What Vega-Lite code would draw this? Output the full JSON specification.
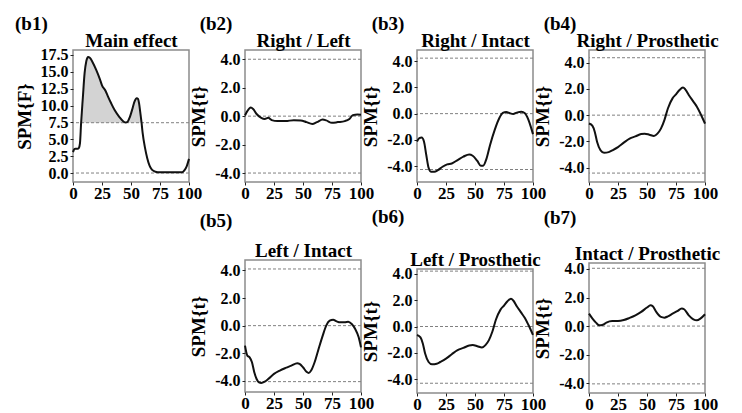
{
"$schema": "https://vega.github.io/schema/vega-lite/v6.json",
"background": "white",
"padding": {"left": 14, "top": 14, "right": 5, "bottom": 5},
"config": {
  "font": "Liberation Serif",
  "view": {"stroke": "#8c8c8c", "strokeWidth": 1.5},
  "axis": {"grid": false, "domain": false, "tickColor": "#222", "tickSize": 3, "tickWidth": 1,
           "labelFont": "Liberation Serif", "labelFontWeight": "bold", "labelColor": "#000", "labelFontSize": 16, "labelPadding": 2,
           "labelOverlap": false, "labelFlush": false,
           "titleFont": "Liberation Serif", "titleFontWeight": "bold", "titleFontSize": 19, "titleColor": "#000", "titlePadding": 6},
  "axisX": {"labelFontSize": 17, "labelPadding": 0},
  "title": {"font": "Liberation Serif", "fontWeight": "bold", "fontSize": 19, "color": "#000", "anchor": "start", "frame": "bounds"}
},
"datasets": {
  "d": [
    {"panel":"b1","kind":"ref","y":7.46},{"panel":"b1","kind":"ref","y":0},
    {"panel":"b2","kind":"ref","y":4.0},{"panel":"b2","kind":"ref","y":0},{"panel":"b2","kind":"ref","y":-4.0},
    {"panel":"b3","kind":"ref","y":4.22},{"panel":"b3","kind":"ref","y":0},{"panel":"b3","kind":"ref","y":-4.25},
    {"panel":"b4","kind":"ref","y":4.38},{"panel":"b4","kind":"ref","y":0},{"panel":"b4","kind":"ref","y":-4.42},
    {"panel":"b5","kind":"ref","y":4.1},{"panel":"b5","kind":"ref","y":0},{"panel":"b5","kind":"ref","y":-4.05},
    {"panel":"b6","kind":"ref","y":4.2},{"panel":"b6","kind":"ref","y":0},{"panel":"b6","kind":"ref","y":-4.3},
    {"panel":"b7","kind":"ref","y":4.05},{"panel":"b7","kind":"ref","y":0},{"panel":"b7","kind":"ref","y":-4.05},

    {"panel":"b1","kind":"sig","x":7,"y":7.46,"base":7.46},{"panel":"b1","kind":"sig","x":8.5,"y":11.2,"base":7.46},{"panel":"b1","kind":"sig","x":10,"y":14.8,"base":7.46},{"panel":"b1","kind":"sig","x":11.5,"y":16.6,"base":7.46},{"panel":"b1","kind":"sig","x":13,"y":17.2,"base":7.46},{"panel":"b1","kind":"sig","x":14.5,"y":17.1,"base":7.46},{"panel":"b1","kind":"sig","x":17,"y":16.4,"base":7.46},{"panel":"b1","kind":"sig","x":20,"y":15.3,"base":7.46},{"panel":"b1","kind":"sig","x":23,"y":14.0,"base":7.46},{"panel":"b1","kind":"sig","x":25,"y":13.0,"base":7.46},{"panel":"b1","kind":"sig","x":28,"y":12.2,"base":7.46},{"panel":"b1","kind":"sig","x":30,"y":11.4,"base":7.46},{"panel":"b1","kind":"sig","x":33,"y":10.3,"base":7.46},{"panel":"b1","kind":"sig","x":36,"y":9.3,"base":7.46},{"panel":"b1","kind":"sig","x":40,"y":8.3,"base":7.46},{"panel":"b1","kind":"sig","x":43,"y":7.7,"base":7.46},{"panel":"b1","kind":"sig","x":45,"y":7.5,"base":7.46},{"panel":"b1","kind":"sig","x":47,"y":7.6,"base":7.46},{"panel":"b1","kind":"sig","x":49,"y":8.3,"base":7.46},{"panel":"b1","kind":"sig","x":51,"y":9.4,"base":7.46},{"panel":"b1","kind":"sig","x":53,"y":10.6,"base":7.46},{"panel":"b1","kind":"sig","x":55,"y":11.1,"base":7.46},{"panel":"b1","kind":"sig","x":56,"y":11.0,"base":7.46},{"panel":"b1","kind":"sig","x":57,"y":10.3,"base":7.46},{"panel":"b1","kind":"sig","x":58,"y":9.0,"base":7.46},{"panel":"b1","kind":"sig","x":59.1,"y":7.46,"base":7.46},

    {"panel":"b1","kind":"curve","x":0,"y":3.1},{"panel":"b1","kind":"curve","x":1,"y":3.5},{"panel":"b1","kind":"curve","x":2,"y":3.6},{"panel":"b1","kind":"curve","x":4,"y":3.6},{"panel":"b1","kind":"curve","x":5,"y":3.7},{"panel":"b1","kind":"curve","x":6,"y":4.4},{"panel":"b1","kind":"curve","x":7,"y":7.46},{"panel":"b1","kind":"curve","x":8.5,"y":11.2},{"panel":"b1","kind":"curve","x":10,"y":14.8},{"panel":"b1","kind":"curve","x":11.5,"y":16.6},{"panel":"b1","kind":"curve","x":13,"y":17.2},{"panel":"b1","kind":"curve","x":14.5,"y":17.1},{"panel":"b1","kind":"curve","x":17,"y":16.4},{"panel":"b1","kind":"curve","x":20,"y":15.3},{"panel":"b1","kind":"curve","x":23,"y":14.0},{"panel":"b1","kind":"curve","x":25,"y":13.0},{"panel":"b1","kind":"curve","x":28,"y":12.2},{"panel":"b1","kind":"curve","x":30,"y":11.4},{"panel":"b1","kind":"curve","x":33,"y":10.3},{"panel":"b1","kind":"curve","x":36,"y":9.3},{"panel":"b1","kind":"curve","x":40,"y":8.3},{"panel":"b1","kind":"curve","x":43,"y":7.7},{"panel":"b1","kind":"curve","x":45,"y":7.5},{"panel":"b1","kind":"curve","x":47,"y":7.6},{"panel":"b1","kind":"curve","x":49,"y":8.3},{"panel":"b1","kind":"curve","x":51,"y":9.4},{"panel":"b1","kind":"curve","x":53,"y":10.6},{"panel":"b1","kind":"curve","x":55,"y":11.1},{"panel":"b1","kind":"curve","x":56,"y":11.0},{"panel":"b1","kind":"curve","x":57,"y":10.3},{"panel":"b1","kind":"curve","x":58,"y":9.0},{"panel":"b1","kind":"curve","x":59.1,"y":7.46},{"panel":"b1","kind":"curve","x":60,"y":6.0},{"panel":"b1","kind":"curve","x":62,"y":3.8},{"panel":"b1","kind":"curve","x":64,"y":2.2},{"panel":"b1","kind":"curve","x":66,"y":1.1},{"panel":"b1","kind":"curve","x":68,"y":0.5},{"panel":"b1","kind":"curve","x":71,"y":0.2},{"panel":"b1","kind":"curve","x":75,"y":0.1},{"panel":"b1","kind":"curve","x":85,"y":0.1},{"panel":"b1","kind":"curve","x":94,"y":0.1},{"panel":"b1","kind":"curve","x":96,"y":0.4},{"panel":"b1","kind":"curve","x":98,"y":1.0},{"panel":"b1","kind":"curve","x":100,"y":2.1},

    {"panel":"b2","kind":"curve","x":0,"y":0.05},{"panel":"b2","kind":"curve","x":2,"y":0.35},{"panel":"b2","kind":"curve","x":5,"y":0.6},{"panel":"b2","kind":"curve","x":7,"y":0.5},{"panel":"b2","kind":"curve","x":10,"y":0.15},{"panel":"b2","kind":"curve","x":14,"y":-0.12},{"panel":"b2","kind":"curve","x":17,"y":-0.2},{"panel":"b2","kind":"curve","x":20,"y":-0.12},{"panel":"b2","kind":"curve","x":23,"y":-0.28},{"panel":"b2","kind":"curve","x":28,"y":-0.35},{"panel":"b2","kind":"curve","x":35,"y":-0.35},{"panel":"b2","kind":"curve","x":42,"y":-0.28},{"panel":"b2","kind":"curve","x":48,"y":-0.3},{"panel":"b2","kind":"curve","x":53,"y":-0.42},{"panel":"b2","kind":"curve","x":58,"y":-0.55},{"panel":"b2","kind":"curve","x":62,"y":-0.42},{"panel":"b2","kind":"curve","x":67,"y":-0.24},{"panel":"b2","kind":"curve","x":70,"y":-0.3},{"panel":"b2","kind":"curve","x":75,"y":-0.47},{"panel":"b2","kind":"curve","x":80,"y":-0.42},{"panel":"b2","kind":"curve","x":86,"y":-0.35},{"panel":"b2","kind":"curve","x":90,"y":-0.2},{"panel":"b2","kind":"curve","x":93,"y":0.07},{"panel":"b2","kind":"curve","x":97,"y":0.12},{"panel":"b2","kind":"curve","x":100,"y":0.1},

    {"panel":"b3","kind":"curve","x":0,"y":-2.12},{"panel":"b3","kind":"curve","x":2,"y":-1.87},{"panel":"b3","kind":"curve","x":4,"y":-1.82},{"panel":"b3","kind":"curve","x":6,"y":-2.12},{"panel":"b3","kind":"curve","x":8,"y":-3.15},{"panel":"b3","kind":"curve","x":10,"y":-4.12},{"panel":"b3","kind":"curve","x":12,"y":-4.42},{"panel":"b3","kind":"curve","x":15,"y":-4.42},{"panel":"b3","kind":"curve","x":18,"y":-4.3},{"panel":"b3","kind":"curve","x":22,"y":-4.04},{"panel":"b3","kind":"curve","x":26,"y":-3.86},{"panel":"b3","kind":"curve","x":30,"y":-3.79},{"panel":"b3","kind":"curve","x":35,"y":-3.53},{"panel":"b3","kind":"curve","x":40,"y":-3.27},{"panel":"b3","kind":"curve","x":45,"y":-3.1},{"panel":"b3","kind":"curve","x":48,"y":-3.2},{"panel":"b3","kind":"curve","x":52,"y":-3.6},{"panel":"b3","kind":"curve","x":55,"y":-3.96},{"panel":"b3","kind":"curve","x":57,"y":-3.96},{"panel":"b3","kind":"curve","x":60,"y":-3.4},{"panel":"b3","kind":"curve","x":63,"y":-2.38},{"panel":"b3","kind":"curve","x":67,"y":-1.23},{"panel":"b3","kind":"curve","x":71,"y":-0.33},{"panel":"b3","kind":"curve","x":74,"y":0.05},{"panel":"b3","kind":"curve","x":77,"y":0.13},{"panel":"b3","kind":"curve","x":80,"y":0.03},{"panel":"b3","kind":"curve","x":83,"y":-0.03},{"panel":"b3","kind":"curve","x":86,"y":0.08},{"panel":"b3","kind":"curve","x":90,"y":0.15},{"panel":"b3","kind":"curve","x":93,"y":0.03},{"panel":"b3","kind":"curve","x":96,"y":-0.46},{"panel":"b3","kind":"curve","x":98,"y":-0.97},{"panel":"b3","kind":"curve","x":100,"y":-1.56},

    {"panel":"b4","kind":"curve","x":0,"y":-0.64},{"panel":"b4","kind":"curve","x":3,"y":-0.82},{"panel":"b4","kind":"curve","x":5,"y":-1.28},{"panel":"b4","kind":"curve","x":7,"y":-2.05},{"panel":"b4","kind":"curve","x":10,"y":-2.69},{"panel":"b4","kind":"curve","x":13,"y":-2.87},{"panel":"b4","kind":"curve","x":17,"y":-2.82},{"panel":"b4","kind":"curve","x":20,"y":-2.69},{"panel":"b4","kind":"curve","x":25,"y":-2.44},{"panel":"b4","kind":"curve","x":30,"y":-2.1},{"panel":"b4","kind":"curve","x":35,"y":-1.79},{"panel":"b4","kind":"curve","x":40,"y":-1.62},{"panel":"b4","kind":"curve","x":45,"y":-1.44},{"panel":"b4","kind":"curve","x":48,"y":-1.41},{"panel":"b4","kind":"curve","x":52,"y":-1.49},{"panel":"b4","kind":"curve","x":56,"y":-1.59},{"panel":"b4","kind":"curve","x":59,"y":-1.41},{"panel":"b4","kind":"curve","x":62,"y":-1.03},{"panel":"b4","kind":"curve","x":65,"y":-0.38},{"panel":"b4","kind":"curve","x":68,"y":0.51},{"panel":"b4","kind":"curve","x":72,"y":1.28},{"panel":"b4","kind":"curve","x":75,"y":1.59},{"panel":"b4","kind":"curve","x":78,"y":1.92},{"panel":"b4","kind":"curve","x":81,"y":2.1},{"panel":"b4","kind":"curve","x":83,"y":1.97},{"panel":"b4","kind":"curve","x":86,"y":1.54},{"panel":"b4","kind":"curve","x":90,"y":1.03},{"panel":"b4","kind":"curve","x":93,"y":0.64},{"panel":"b4","kind":"curve","x":96,"y":0.13},{"panel":"b4","kind":"curve","x":100,"y":-0.64},

    {"panel":"b5","kind":"curve","x":0,"y":-1.45},{"panel":"b5","kind":"curve","x":2,"y":-2.17},{"panel":"b5","kind":"curve","x":4,"y":-2.29},{"panel":"b5","kind":"curve","x":6,"y":-2.65},{"panel":"b5","kind":"curve","x":8,"y":-3.37},{"panel":"b5","kind":"curve","x":10,"y":-3.86},{"panel":"b5","kind":"curve","x":12,"y":-4.1},{"panel":"b5","kind":"curve","x":14,"y":-4.14},{"panel":"b5","kind":"curve","x":17,"y":-4.05},{"panel":"b5","kind":"curve","x":20,"y":-3.86},{"panel":"b5","kind":"curve","x":25,"y":-3.49},{"panel":"b5","kind":"curve","x":30,"y":-3.25},{"panel":"b5","kind":"curve","x":35,"y":-3.06},{"panel":"b5","kind":"curve","x":40,"y":-2.89},{"panel":"b5","kind":"curve","x":45,"y":-2.72},{"panel":"b5","kind":"curve","x":47,"y":-2.77},{"panel":"b5","kind":"curve","x":50,"y":-3.01},{"panel":"b5","kind":"curve","x":53,"y":-3.33},{"panel":"b5","kind":"curve","x":55,"y":-3.42},{"panel":"b5","kind":"curve","x":57,"y":-3.25},{"panel":"b5","kind":"curve","x":60,"y":-2.65},{"panel":"b5","kind":"curve","x":63,"y":-1.81},{"panel":"b5","kind":"curve","x":67,"y":-0.72},{"panel":"b5","kind":"curve","x":70,"y":0},{"panel":"b5","kind":"curve","x":73,"y":0.36},{"panel":"b5","kind":"curve","x":76,"y":0.43},{"panel":"b5","kind":"curve","x":79,"y":0.31},{"panel":"b5","kind":"curve","x":82,"y":0.24},{"panel":"b5","kind":"curve","x":86,"y":0.24},{"panel":"b5","kind":"curve","x":89,"y":0.29},{"panel":"b5","kind":"curve","x":92,"y":0.12},{"panel":"b5","kind":"curve","x":95,"y":-0.24},{"panel":"b5","kind":"curve","x":98,"y":-0.84},{"panel":"b5","kind":"curve","x":100,"y":-1.57},

    {"panel":"b6","kind":"curve","x":0,"y":-0.64},{"panel":"b6","kind":"curve","x":3,"y":-0.82},{"panel":"b6","kind":"curve","x":5,"y":-1.28},{"panel":"b6","kind":"curve","x":7,"y":-2.05},{"panel":"b6","kind":"curve","x":10,"y":-2.69},{"panel":"b6","kind":"curve","x":13,"y":-2.87},{"panel":"b6","kind":"curve","x":17,"y":-2.82},{"panel":"b6","kind":"curve","x":20,"y":-2.69},{"panel":"b6","kind":"curve","x":25,"y":-2.44},{"panel":"b6","kind":"curve","x":30,"y":-2.1},{"panel":"b6","kind":"curve","x":35,"y":-1.79},{"panel":"b6","kind":"curve","x":40,"y":-1.62},{"panel":"b6","kind":"curve","x":45,"y":-1.44},{"panel":"b6","kind":"curve","x":48,"y":-1.41},{"panel":"b6","kind":"curve","x":52,"y":-1.49},{"panel":"b6","kind":"curve","x":56,"y":-1.59},{"panel":"b6","kind":"curve","x":59,"y":-1.41},{"panel":"b6","kind":"curve","x":62,"y":-1.03},{"panel":"b6","kind":"curve","x":65,"y":-0.38},{"panel":"b6","kind":"curve","x":68,"y":0.51},{"panel":"b6","kind":"curve","x":72,"y":1.28},{"panel":"b6","kind":"curve","x":75,"y":1.59},{"panel":"b6","kind":"curve","x":78,"y":1.92},{"panel":"b6","kind":"curve","x":81,"y":2.1},{"panel":"b6","kind":"curve","x":83,"y":1.97},{"panel":"b6","kind":"curve","x":86,"y":1.54},{"panel":"b6","kind":"curve","x":90,"y":1.03},{"panel":"b6","kind":"curve","x":93,"y":0.64},{"panel":"b6","kind":"curve","x":96,"y":0.13},{"panel":"b6","kind":"curve","x":100,"y":-0.64},

    {"panel":"b7","kind":"curve","x":0,"y":0.87},{"panel":"b7","kind":"curve","x":3,"y":0.52},{"panel":"b7","kind":"curve","x":6,"y":0.24},{"panel":"b7","kind":"curve","x":9,"y":0.05},{"panel":"b7","kind":"curve","x":12,"y":0.09},{"panel":"b7","kind":"curve","x":15,"y":0.24},{"panel":"b7","kind":"curve","x":20,"y":0.35},{"panel":"b7","kind":"curve","x":25,"y":0.35},{"panel":"b7","kind":"curve","x":30,"y":0.42},{"panel":"b7","kind":"curve","x":35,"y":0.57},{"panel":"b7","kind":"curve","x":40,"y":0.75},{"panel":"b7","kind":"curve","x":45,"y":0.99},{"panel":"b7","kind":"curve","x":50,"y":1.3},{"panel":"b7","kind":"curve","x":53,"y":1.46},{"panel":"b7","kind":"curve","x":55,"y":1.39},{"panel":"b7","kind":"curve","x":58,"y":0.99},{"panel":"b7","kind":"curve","x":62,"y":0.64},{"panel":"b7","kind":"curve","x":65,"y":0.59},{"panel":"b7","kind":"curve","x":68,"y":0.68},{"panel":"b7","kind":"curve","x":72,"y":0.87},{"panel":"b7","kind":"curve","x":76,"y":1.04},{"panel":"b7","kind":"curve","x":80,"y":1.23},{"panel":"b7","kind":"curve","x":82,"y":1.18},{"panel":"b7","kind":"curve","x":86,"y":0.75},{"panel":"b7","kind":"curve","x":90,"y":0.47},{"panel":"b7","kind":"curve","x":93,"y":0.4},{"panel":"b7","kind":"curve","x":96,"y":0.52},{"panel":"b7","kind":"curve","x":100,"y":0.83}
  ]
},
"columns": 4,
"bounds": "flush",
"spacing": {"row": 78, "column": 56},
"concat": [
  {
    "width": 116, "height": 132,
    "title": {"text": "(b1)", "offset": -3},
    "data": {"name": "d"},
    "transform": [{"filter": "datum.panel == 'b1'"}],
    "encoding": {"y": {"field": "y", "type": "quantitative", "scale": {"domain": [-1.33, 18.24], "nice": false, "zero": false},
      "axis": {"values": [0, 2.5, 5, 7.5, 10, 12.5, 15, 17.5], "labelExpr": "replace(format(datum.value, '.1f'), '\u2212', '-')"}, "title": "SPM{F}"}},
    "layer": [
      {"transform": [{"filter": "datum.kind == 'sig'"}], "mark": {"type": "area", "color": "#d3d3d3", "opacity": 1},
       "encoding": {"x": {"field": "x", "type": "quantitative", "scale": {"domain": [0, 100], "nice": false}, "axis": null}, "y2": {"field": "base"}}},
      {"transform": [{"filter": "datum.kind == 'ref'"}], "mark": {"type": "rule", "color": "#808080", "strokeDash": [3, 2], "strokeWidth": 1}, "encoding": {}},
      {"transform": [{"filter": "datum.kind == 'curve'"}], "mark": {"type": "line", "color": "#111", "strokeWidth": 2, "interpolate": "monotone"},
       "encoding": {"x": {"field": "x", "type": "quantitative", "scale": {"domain": [0, 100], "nice": false}, "axis": {"values": [0, 25, 50, 75, 100], "title": null}}}},
      {"transform": [{"filter": "datum.kind == 'curve'"}], "mark": {"type": "point", "opacity": 0},
       "encoding": {"x": {"field": "x", "type": "quantitative", "scale": {"domain": [0, 100], "nice": false}, "axis": {"orient": "top", "title": "Main effect", "labels": false, "ticks": false, "domain": false, "titlePadding": 0, "titleFontSize": 19}}}}
    ],
    "resolve": {"axis": {"x": "independent"}}
  },
  {
    "width": 116, "height": 132,
    "title": {"text": "(b2)", "offset": -3, "dx": 10},
    "data": {"name": "d"},
    "transform": [{"filter": "datum.panel == 'b2'"}],
    "encoding": {"y": {"field": "y", "type": "quantitative", "scale": {"domain": [-4.63, 4.65], "nice": false, "zero": false},
      "axis": {"values": [-4, -2, 0, 2, 4], "labelExpr": "replace(format(datum.value, '.1f'), '\u2212', '-')"}, "title": "SPM{t}"}},
    "layer": [
      {"transform": [{"filter": "datum.kind == 'ref'"}], "mark": {"type": "rule", "color": "#808080", "strokeDash": [3, 2], "strokeWidth": 1}, "encoding": {}},
      {"transform": [{"filter": "datum.kind == 'curve'"}], "mark": {"type": "line", "color": "#111", "strokeWidth": 2, "interpolate": "monotone"},
       "encoding": {"x": {"field": "x", "type": "quantitative", "scale": {"domain": [0, 100], "nice": false}, "axis": {"values": [0, 25, 50, 75, 100], "title": null}}}},
      {"transform": [{"filter": "datum.kind == 'curve'"}], "mark": {"type": "point", "opacity": 0},
       "encoding": {"x": {"field": "x", "type": "quantitative", "scale": {"domain": [0, 100], "nice": false}, "axis": {"orient": "top", "title": "Right / Left", "labels": false, "ticks": false, "domain": false, "titlePadding": 0, "titleFontSize": 19}}}}
    ],
    "resolve": {"axis": {"x": "independent"}}
  },
  {
    "width": 116, "height": 132,
    "title": {"text": "(b3)", "offset": -3, "dx": 10},
    "data": {"name": "d"},
    "transform": [{"filter": "datum.panel == 'b3'"}],
    "encoding": {"y": {"field": "y", "type": "quantitative", "scale": {"domain": [-5.2, 4.84], "nice": false, "zero": false},
      "axis": {"values": [-4, -2, 0, 2, 4], "labelExpr": "replace(format(datum.value, '.1f'), '\u2212', '-')"}, "title": "SPM{t}"}},
    "layer": [
      {"transform": [{"filter": "datum.kind == 'ref'"}], "mark": {"type": "rule", "color": "#808080", "strokeDash": [3, 2], "strokeWidth": 1}, "encoding": {}},
      {"transform": [{"filter": "datum.kind == 'curve'"}], "mark": {"type": "line", "color": "#111", "strokeWidth": 2, "interpolate": "monotone"},
       "encoding": {"x": {"field": "x", "type": "quantitative", "scale": {"domain": [0, 100], "nice": false}, "axis": {"values": [0, 25, 50, 75, 100], "title": null}}}},
      {"transform": [{"filter": "datum.kind == 'curve'"}], "mark": {"type": "point", "opacity": 0},
       "encoding": {"x": {"field": "x", "type": "quantitative", "scale": {"domain": [0, 100], "nice": false}, "axis": {"orient": "top", "title": "Right / Intact", "labels": false, "ticks": false, "domain": false, "titlePadding": 0, "titleFontSize": 19}}}}
    ],
    "resolve": {"axis": {"x": "independent"}}
  },
  {
    "width": 116, "height": 132,
    "title": {"text": "(b4)", "offset": -3, "dx": 10},
    "data": {"name": "d"},
    "transform": [{"filter": "datum.panel == 'b4'"}],
    "encoding": {"y": {"field": "y", "type": "quantitative", "scale": {"domain": [-5.1, 4.97], "nice": false, "zero": false},
      "axis": {"values": [-4, -2, 0, 2, 4], "labelExpr": "replace(format(datum.value, '.1f'), '\u2212', '-')"}, "title": "SPM{t}"}},
    "layer": [
      {"transform": [{"filter": "datum.kind == 'ref'"}], "mark": {"type": "rule", "color": "#808080", "strokeDash": [3, 2], "strokeWidth": 1}, "encoding": {}},
      {"transform": [{"filter": "datum.kind == 'curve'"}], "mark": {"type": "line", "color": "#111", "strokeWidth": 2, "interpolate": "monotone"},
       "encoding": {"x": {"field": "x", "type": "quantitative", "scale": {"domain": [0, 100], "nice": false}, "axis": {"values": [0, 25, 50, 75, 100], "title": null}}}},
      {"transform": [{"filter": "datum.kind == 'curve'"}], "mark": {"type": "point", "opacity": 0},
       "encoding": {"x": {"field": "x", "type": "quantitative", "scale": {"domain": [0, 100], "nice": false}, "axis": {"orient": "top", "title": "Right / Prosthetic", "labels": false, "ticks": false, "domain": false, "titlePadding": 0, "titleFontSize": 19}}}}
    ],
    "resolve": {"axis": {"x": "independent"}}
  },
  {
    "width": 116, "height": 132,
    "data": {"values": []},
    "mark": {"type": "point", "opacity": 0},
    "encoding": {},
    "view": {"stroke": null}
  },
  {
    "width": 116, "height": 132,
    "title": {"text": "(b5)", "offset": 10, "dx": 10},
    "data": {"name": "d"},
    "transform": [{"filter": "datum.panel == 'b5'"}],
    "encoding": {"y": {"field": "y", "type": "quantitative", "scale": {"domain": [-4.8, 4.75], "nice": false, "zero": false},
      "axis": {"values": [-4, -2, 0, 2, 4], "labelExpr": "replace(format(datum.value, '.1f'), '\u2212', '-')"}, "title": "SPM{t}"}},
    "layer": [
      {"transform": [{"filter": "datum.kind == 'ref'"}], "mark": {"type": "rule", "color": "#808080", "strokeDash": [3, 2], "strokeWidth": 1}, "encoding": {}},
      {"transform": [{"filter": "datum.kind == 'curve'"}], "mark": {"type": "line", "color": "#111", "strokeWidth": 2, "interpolate": "monotone"},
       "encoding": {"x": {"field": "x", "type": "quantitative", "scale": {"domain": [0, 100], "nice": false}, "axis": {"values": [0, 25, 50, 75, 100], "title": null}}}},
      {"transform": [{"filter": "datum.kind == 'curve'"}], "mark": {"type": "point", "opacity": 0},
       "encoding": {"x": {"field": "x", "type": "quantitative", "scale": {"domain": [0, 100], "nice": false}, "axis": {"orient": "top", "title": "Left / Intact", "labels": false, "ticks": false, "domain": false, "titlePadding": 0, "titleFontSize": 19}}}}
    ],
    "resolve": {"axis": {"x": "independent"}}
  },
  {
    "bounds": "flush",
    "spacing": 8,
    "vconcat": [
      {"width": 116, "height": 1, "data": {"values": []}, "mark": {"type": "point", "opacity": 0}, "encoding": {}, "view": {"stroke": null}},
      {
        "width": 116, "height": 124,
        "title": {"text": "(b6)", "offset": 23, "dx": 10},
        "data": {"name": "d"},
        "transform": [{"filter": "datum.panel == 'b6'"}],
        "encoding": {"y": {"field": "y", "type": "quantitative", "scale": {"domain": [-5.04, 4.36], "nice": false, "zero": false},
          "axis": {"values": [-4, -2, 0, 2, 4], "labelExpr": "replace(format(datum.value, '.1f'), '\u2212', '-')"}, "title": "SPM{t}"}},
        "layer": [
          {"transform": [{"filter": "datum.kind == 'ref'"}], "mark": {"type": "rule", "color": "#808080", "strokeDash": [3, 2], "strokeWidth": 1}, "encoding": {}},
          {"transform": [{"filter": "datum.kind == 'curve'"}], "mark": {"type": "line", "color": "#111", "strokeWidth": 2, "interpolate": "monotone"},
           "encoding": {"x": {"field": "x", "type": "quantitative", "scale": {"domain": [0, 100], "nice": false}, "axis": {"values": [0, 25, 50, 75, 100], "title": null}}}},
          {"transform": [{"filter": "datum.kind == 'curve'"}], "mark": {"type": "point", "opacity": 0},
           "encoding": {"x": {"field": "x", "type": "quantitative", "scale": {"domain": [0, 100], "nice": false}, "axis": {"orient": "top", "title": "Left / Prosthetic", "labels": false, "ticks": false, "domain": false, "titlePadding": 0, "titleFontSize": 19}}}}
        ],
        "resolve": {"axis": {"x": "independent"}}
      }
    ]
  },
  {
    "bounds": "flush",
    "spacing": 2,
    "vconcat": [
      {"width": 116, "height": 1, "data": {"values": []}, "mark": {"type": "point", "opacity": 0}, "encoding": {}, "view": {"stroke": null}},
      {
        "width": 116, "height": 130,
        "title": {"text": "(b7)", "offset": 16, "dx": 10},
        "data": {"name": "d"},
        "transform": [{"filter": "datum.panel == 'b7'"}],
        "encoding": {"y": {"field": "y", "type": "quantitative", "scale": {"domain": [-4.69, 4.42], "nice": false, "zero": false},
          "axis": {"values": [-4, -2, 0, 2, 4], "labelExpr": "replace(format(datum.value, '.1f'), '\u2212', '-')"}, "title": "SPM{t}"}},
        "layer": [
          {"transform": [{"filter": "datum.kind == 'ref'"}], "mark": {"type": "rule", "color": "#808080", "strokeDash": [3, 2], "strokeWidth": 1}, "encoding": {}},
          {"transform": [{"filter": "datum.kind == 'curve'"}], "mark": {"type": "line", "color": "#111", "strokeWidth": 2, "interpolate": "monotone"},
           "encoding": {"x": {"field": "x", "type": "quantitative", "scale": {"domain": [0, 100], "nice": false}, "axis": {"values": [0, 25, 50, 75, 100], "title": null}}}},
          {"transform": [{"filter": "datum.kind == 'curve'"}], "mark": {"type": "point", "opacity": 0},
           "encoding": {"x": {"field": "x", "type": "quantitative", "scale": {"domain": [0, 100], "nice": false}, "axis": {"orient": "top", "title": "Intact / Prosthetic", "labels": false, "ticks": false, "domain": false, "titlePadding": 0, "titleFontSize": 19}}}}
        ],
        "resolve": {"axis": {"x": "independent"}}
      }
    ]
  }
]
}
